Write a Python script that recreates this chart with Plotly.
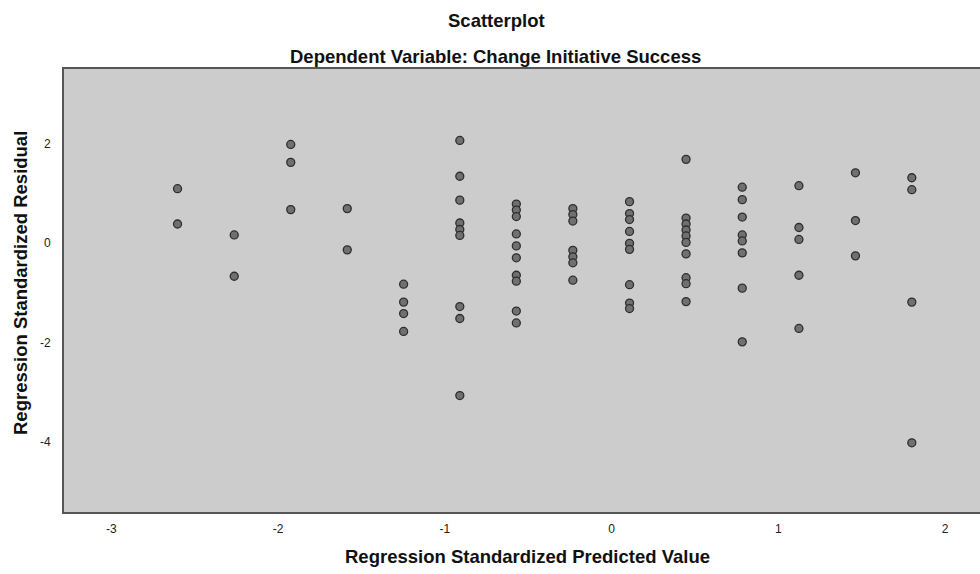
import plotly.graph_objects as go

# Regression standardized predicted values (columns) and residuals
pred_levels = [-2.603, -2.263, -1.924, -1.585, -1.247, -0.910, -0.571,
               -0.232, 0.108, 0.447, 0.784, 1.124, 1.463, 1.801]

residuals_by_level = [
    [1.09, 0.38],
    [0.16, -0.67],
    [1.98, 1.62, 0.67],
    [0.69, -0.14],
    [-0.83, -1.19, -1.42, -1.78],
    [2.06, 1.34, 0.86, 0.40, 0.27, 0.15, -1.28, -1.52, -3.07],
    [0.78, 0.66, 0.53, 0.18, -0.06, -0.30, -0.65, -0.77, -1.37, -1.61],
    [0.69, 0.57, 0.44, -0.15, -0.28, -0.40, -0.75],
    [0.83, 0.59, 0.47, 0.23, -0.01, -0.13, -0.84, -1.21, -1.32],
    [1.68, 0.50, 0.38, 0.26, 0.14, 0.01, -0.22, -0.70, -0.82, -1.18],
    [1.12, 0.87, 0.52, 0.16, 0.04, -0.20, -0.91, -1.99],
    [1.15, 0.31, 0.07, -0.65, -1.72],
    [1.41, 0.45, -0.26],
    [1.31, 1.07, -1.19, -4.02],
]

x_ticks = [-3, -2, -1, 0, 1, 2]
y_ticks = [-4, -2, 0, 2]

title_text = "Scatterplot"
subtitle_text = "Dependent Variable: Change Initiative Success"
x_title = "Regression Standardized Predicted Value"
y_title = "Regression Standardized Residual"

xs, ys = [], []
for lv, res in zip(pred_levels, residuals_by_level):
    for r in res:
        xs.append(lv)
        ys.append(r)

FONT = "Liberation Sans, Arial, sans-serif"

W, H = 980, 574
ML, MR, MT, MB = 64, 0, 69, 62
plot_top = MT
plot_bot = H - MB


def ypix(p):
    return (plot_bot - p) / (plot_bot - plot_top)


def xpix(p):
    return (p - ML) / (W - ML - MR)


TFONT = dict(size=18.5, color="#111", family=FONT)

fig = go.Figure(go.Scatter(
    x=xs, y=ys, mode="markers",
    marker=dict(size=8, color="#707070",
                line=dict(color="#2e2e2e", width=1.3)),
    hoverinfo="x+y",
))

fig.update_layout(
    width=W, height=H,
    margin=dict(l=ML, r=MR, t=MT, b=MB),
    paper_bgcolor="white",
    plot_bgcolor="#cccccc",
    showlegend=False,
    font=dict(family=FONT, color="#222"),
    annotations=[
        dict(text="<b>" + title_text + "</b>", x=xpix(496), y=ypix(20),
             xref="paper", yref="paper", xanchor="center", yanchor="middle",
             showarrow=False, font=TFONT),
        dict(text="<b>" + subtitle_text + "</b>", x=xpix(495), y=ypix(56),
             xref="paper", yref="paper", xanchor="center", yanchor="middle",
             showarrow=False, font=TFONT),
        dict(text="<b>" + x_title + "</b>", x=xpix(527), y=ypix(556),
             xref="paper", yref="paper", xanchor="center", yanchor="middle",
             showarrow=False, font=TFONT),
        dict(text="<b>" + y_title + "</b>", x=xpix(20), y=ypix(283),
             xref="paper", yref="paper", xanchor="center", yanchor="middle",
             textangle=-90, showarrow=False, font=TFONT),
    ],
)

fig.update_xaxes(
    range=[-3.284, 2.210], tickvals=x_ticks, ticktext=[str(t) for t in x_ticks],
    showgrid=False, zeroline=False, showline=True, linecolor="#555", linewidth=2,
    mirror=True, ticks="", tickfont=dict(size=12, color="#222"),
    ticklabelstandoff=5,
)
fig.update_yaxes(
    range=[-5.411, 3.497], tickvals=y_ticks, ticktext=[str(t) for t in y_ticks],
    showgrid=False, zeroline=False, showline=True, linecolor="#555", linewidth=2,
    mirror=False, ticks="", tickfont=dict(size=12, color="#222"),
    ticklabelstandoff=9,
)

fig.write_html("out.html", config={"displayModeBar": False},
               post_script="document.body.style.margin='0px';document.body.style.overflow='hidden';")
